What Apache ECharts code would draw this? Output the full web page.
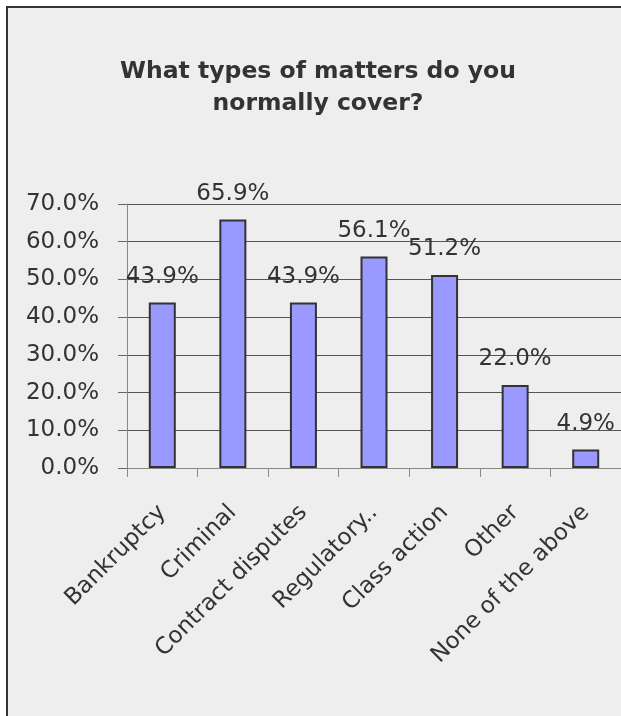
<!DOCTYPE html>
<html>
<head>
<meta charset="utf-8">
<script src="https://cdn.jsdelivr.net/npm/echarts@6/dist/echarts.min.js"></script>
<style>html,body{margin:0;padding:0;background:#fff;overflow:hidden;}#c{width:621px;height:716px;}</style>
</head>
<body>
<div id="c"></div>
<script>
const categories = ['Bankruptcy', 'Criminal', 'Contract disputes', 'Regulatory..', 'Class action', 'Other', 'None of the above'];
const values = [43.9, 65.9, 43.9, 56.1, 51.2, 22.0, 4.9];
const titleText = 'What types of matters do you\nnormally cover?';

const chart = echarts.init(document.getElementById('c'), null, {renderer: 'canvas'});
chart.setOption({
  animation: false,
  backgroundColor: '#ffffff',
  graphic: [
    {type: 'rect', z: -10, silent: true, shape: {x: 7, y: 7, width: 700, height: 800}, style: {fill: '#eeeeee'}},
    {type: 'line', z: -9, silent: true, shape: {x1: 7, y1: 6, x2: 7, y2: 720}, style: {stroke: '#333333', lineWidth: 2}},
    {type: 'line', z: -9, silent: true, shape: {x1: 6, y1: 7, x2: 700, y2: 7}, style: {stroke: '#333333', lineWidth: 2}}
  ],
  title: {
    text: titleText,
    left: 313, top: 51, textAlign: 'center',
    textStyle: {fontFamily: 'DejaVu Sans', fontSize: 23.5, fontWeight: 'bold', color: '#333333', lineHeight: 32}
  },
  grid: {left: 127, right: -5, top: 204, bottom: 248, containLabel: false},
  xAxis: {
    type: 'category', data: categories,
    axisLine: {lineStyle: {color: '#888888', width: 1}},
    axisTick: {show: true, length: 9, lineStyle: {color: '#888888'}},
    axisLabel: {rotate: 45, margin: 41, interval: 0, fontFamily: 'DejaVu Sans', fontSize: 23, color: '#333333'}
  },
  yAxis: {
    type: 'value', min: 0, max: 70, interval: 10,
    axisLine: {show: true, lineStyle: {color: '#888888', width: 1}},
    axisTick: {show: true, length: 9, lineStyle: {color: '#666666'}},
    splitLine: {show: true, lineStyle: {color: '#555555', width: 1}},
    axisLabel: {margin: 28, fontFamily: 'DejaVu Sans', fontSize: 23, color: '#333333',
      formatter: v => v.toFixed(1) + '%'}
  },
  series: [{
    type: 'bar', data: values, barWidth: 27,
    itemStyle: {color: '#9999ff', borderColor: '#333333', borderWidth: 2},
    label: {show: true, position: 'top', distance: 14, fontFamily: 'DejaVu Sans', fontSize: 23, color: '#333333',
      formatter: p => p.value.toFixed(1) + '%'}
  }]
});
</script>
</body>
</html>
